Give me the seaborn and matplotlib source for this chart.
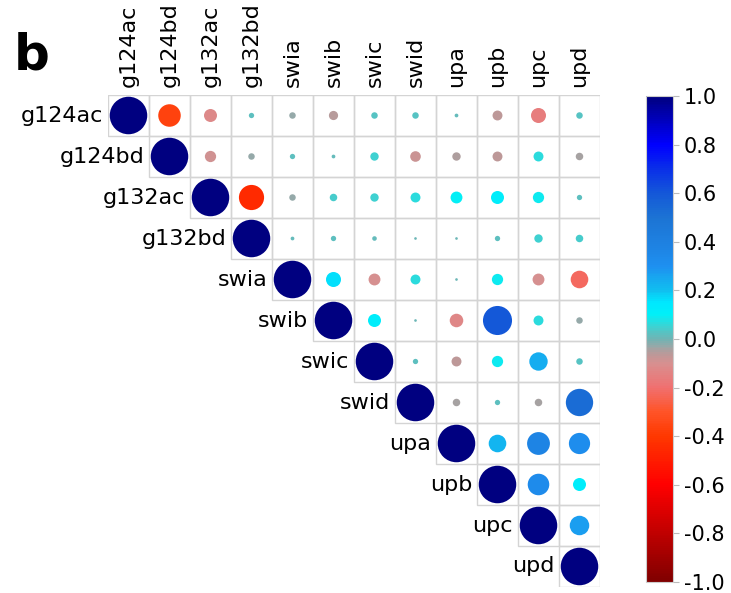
import numpy as np
import pandas as pd
import matplotlib
matplotlib.use("Agg")
import matplotlib.pyplot as plt
import seaborn as sns
from matplotlib.colors import LinearSegmentedColormap, Normalize
from matplotlib.patches import Rectangle

# variables
labels = ['g124ac', 'g124bd', 'g132ac', 'g132bd', 'swia', 'swib',
          'swic', 'swid', 'upa', 'upb', 'upc', 'upd']

# upper triangle of the correlation matrix, one list per row (off-diagonal, left to right)
r_g124ac = [-0.36, -0.12, 0.02, -0.03, -0.06, 0.03, 0.03, 0.01, -0.07, -0.16, 0.03]
r_g124bd = [-0.09, -0.03, 0.02, 0.01, 0.05, -0.08, -0.05, -0.07, 0.07, -0.04]
r_g132ac = [-0.45, -0.03, 0.04, 0.05, 0.07, 0.10, 0.12, 0.09, 0.02]
r_g132bd = [0.01, 0.02, 0.015, 0.005, 0.005, 0.02, 0.05, 0.04]
r_swia = [0.16, -0.10, 0.07, 0.005, 0.09, -0.10, -0.22]
r_swib = [0.12, 0.005, -0.13, 0.60, 0.07, -0.03]
r_swic = [0.02, -0.07, 0.09, 0.24, 0.03]
r_swid = [-0.04, 0.02, -0.04, 0.53]
r_upa = [0.22, 0.37, 0.32]
r_upb = [0.33, 0.12]
r_upc = [0.27]

rows = [r_g124ac, r_g124bd, r_g132ac, r_g132bd, r_swia, r_swib,
        r_swic, r_swid, r_upa, r_upb, r_upc]

n = len(labels)
corr = np.eye(n)
for i, vals in enumerate(rows):
    for k, v in enumerate(vals):
        j = i + 1 + k
        corr[i, j] = v
        corr[j, i] = v

recs = []
for i in range(n):
    for j in range(i, n):
        recs.append({'row': i, 'col': j, 'r': corr[i, j], 'absr': abs(corr[i, j])})
df = pd.DataFrame(recs)

# colour scale
stops = [(-1.0, '#800000'), (-0.8, '#c00000'), (-0.6, '#ff0000'), (-0.4, '#ff3800'),
         (-0.3, '#ff5428'), (-0.2, '#f07070'), (-0.1, '#d89090'), (-0.06, '#b89a9a'),
         (-0.03, '#98a8a8'), (0.0, '#70b4b4'), (0.05, '#40d0d0'), (0.1, '#00f0f8'),
         (0.15, '#00e8ff'), (0.2, '#10c0f0'), (0.3, '#1e90f0'), (0.4, '#1e80e0'),
         (0.5, '#1c74d4'), (0.6, '#1458d8'), (0.7, '#0a30e8'), (0.8, '#0000ff'),
         (1.0, '#000080')]
cmap = LinearSegmentedColormap.from_list('corr', [((v + 1) / 2, c) for v, c in stops])

plt.rcParams['axes.unicode_minus'] = False
fig = plt.figure(figsize=(7.31, 5.93), dpi=100)
ax = fig.add_axes([108 / 731, 6 / 593, 492 / 731, 492 / 593])

# grid cells for the upper triangle
for i in range(n):
    for j in range(i, n):
        ax.add_patch(Rectangle((j - 0.5, i - 0.5), 1, 1, facecolor='none',
                               edgecolor='#d4d4d4', linewidth=1.0, zorder=1))

sns.scatterplot(data=df, x='col', y='row', hue='r', palette=cmap, hue_norm=(-1, 1),
                size='absr', sizes=(0, 730), size_norm=(0, 1), legend=False,
                edgecolor='none', linewidth=0, ax=ax, zorder=2)

ax.set_xlim(-0.5, n - 0.5)
ax.set_ylim(n - 0.5, -0.5)
ax.set_aspect('equal')
for s in ax.spines.values():
    s.set_visible(False)
ax.set_xlabel('')
ax.set_ylabel('')
ax.xaxis.tick_top()
ax.set_xticks(range(n))
ax.set_xticklabels(labels, rotation=90, fontsize=16)
ax.tick_params(axis='x', length=0, pad=6)
ax.set_yticks([])

for i, lab in enumerate(labels):
    ax.text(i - 0.62, i, lab, ha='right', va='center', fontsize=16)

# colour bar
cax = fig.add_axes([646 / 731, 11 / 593, 27 / 731, 486 / 593])
sm = plt.cm.ScalarMappable(cmap=cmap, norm=Normalize(-1, 1))
cb = fig.colorbar(sm, cax=cax)
cb.set_ticks([-1.0, -0.8, -0.6, -0.4, -0.2, 0.0, 0.2, 0.4, 0.6, 0.8, 1.0])
cb.set_ticklabels(['-1.0', '-0.8', '-0.6', '-0.4', '-0.2', '0.0', '0.2', '0.4', '0.6', '0.8', '1.0'])
cb.ax.tick_params(labelsize=15, length=4, color='#bbbbbb', pad=4)
cb.outline.set_edgecolor('#cccccc')

fig.text(14 / 731, 1 - 70 / 593, 'b', fontsize=36, fontweight='bold', va='baseline')

fig.savefig('out.png', dpi=100)
